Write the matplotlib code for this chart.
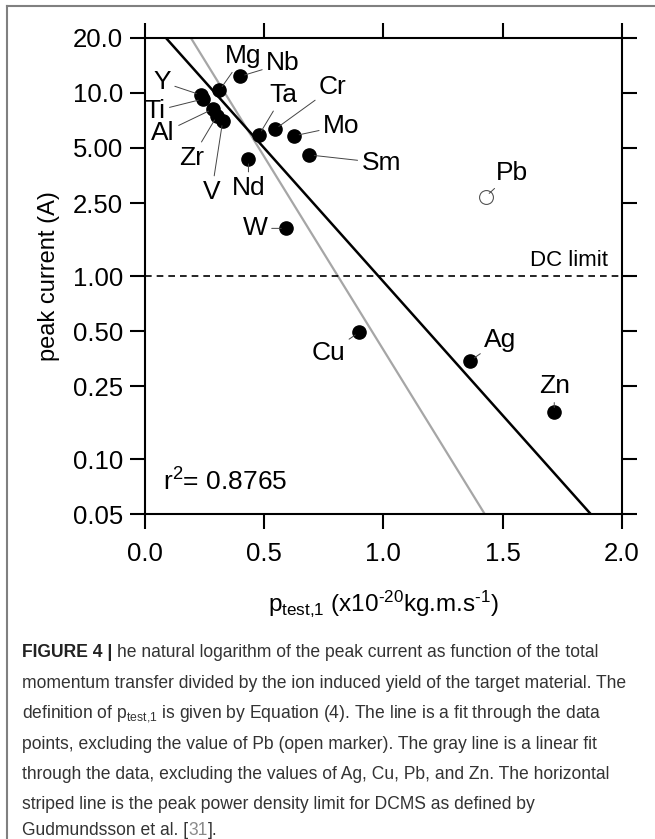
import numpy as np
import matplotlib
matplotlib.use('Agg')
import matplotlib.pyplot as plt
from matplotlib.ticker import FixedLocator, FixedFormatter, NullLocator
from matplotlib.lines import Line2D

plt.rcParams['font.family'] = ['Liberation Sans', 'DejaVu Sans']
plt.rcParams['mathtext.fontset'] = 'custom'
plt.rcParams['mathtext.rm'] = 'Liberation Sans'
plt.rcParams['mathtext.it'] = 'Liberation Sans:italic'
plt.rcParams['mathtext.bf'] = 'Liberation Sans:bold'

# ---------------- data ----------------
elements = ['Y', 'Ti', 'Al', 'Zr', 'V', 'Mg', 'Nb', 'Ta', 'Cr', 'Mo', 'Sm',
            'Nd', 'W', 'Cu', 'Ag', 'Zn']
p_test = [0.235, 0.243, 0.285, 0.302, 0.326, 0.312, 0.399, 0.478, 0.545,
          0.627, 0.690, 0.434, 0.592, 0.899, 1.365, 1.717]
peak_current = [9.73, 9.25, 8.16, 7.48, 7.02, 10.3, 12.3, 5.88, 6.32,
                5.83, 4.58, 4.35, 1.82, 0.493, 0.345, 0.180]
# label offsets (pixels, text centre relative to point)
label_dx = [-39, -48, -50, -25, -11, 24, 43, 24, 58, 47, 72, 0, -31, -31, 30, 0]
label_dy = [13, -12, -24, -42, -71, 34, 13, 40, 42, 10, -8, -29, 0, -21, 21, 26]

pb_name = 'Pb'
pb_x = [1.429]
pb_y = [2.71]
pb_dx, pb_dy = 26, 24

fit_black_x = [0.087, 1.871]
fit_black_y = [20.0, 0.05]
fit_gray_x = [0.192, 1.426]
fit_gray_y = [20.0, 0.05]

dc_limit = 1.0
r2_value = 0.8765

yticks = [0.05, 0.10, 0.25, 0.50, 1.00, 2.50, 5.00, 10.0, 20.0]
ytick_labels = ['0.05', '0.10', '0.25', '0.50', '1.00', '2.50', '5.00', '10.0', '20.0']
xticks = [0.0, 0.5, 1.0, 1.5, 2.0]
xtick_labels = ['0.0', '0.5', '1.0', '1.5', '2.0']

caption_lines = [
    "he natural logarithm of the peak current as function of the total",
    "momentum transfer divided by the ion induced yield of the target material. The",
    r"definition of p$_\mathregular{test{,}1}$ is given by Equation (4). The line is a fit through the data",
    "points, excluding the value of Pb (open marker). The gray line is a linear fit",
    "through the data, excluding the values of Ag, Cu, Pb, and Zn. The horizontal",
    "striped line is the peak power density limit for DCMS as defined by",
    "Gudmundsson et al. [",
]

# ---------------- figure ----------------
W, H = 655, 839
fig = plt.figure(figsize=(W / 100, H / 100), dpi=100)
ax = fig.add_axes([145 / W, 1 - 514.3 / H, 476.7 / W, 476.6 / H])

ax.set_yscale('log')
ax.set_xlim(0, 2.0)
ax.set_ylim(0.05, 20.0)

ax.plot(fit_gray_x, fit_gray_y, color='#a6a6a6', lw=1.6, zorder=2)
ax.plot(fit_black_x, fit_black_y, color='black', lw=1.8, zorder=3)
ax.axhline(dc_limit, color='black', lw=1.2, ls=(0, (4, 3)), zorder=2)

ax.plot(p_test, peak_current, 'o', color='black', ms=9.5, zorder=4, ls='none')
ax.plot(pb_x, pb_y, 'o', mfc='white', mec='#555555', mew=0.8, ms=10, zorder=4, ls='none')

for name, x, y, dx, dy in zip(elements, p_test, peak_current, label_dx, label_dy):
    ax.annotate(name, (x, y), xytext=(dx, dy), textcoords='offset pixels',
                ha='center', va='center', fontsize=19,
                arrowprops=dict(arrowstyle='-', color='#444444', lw=0.7,
                                shrinkA=1, shrinkB=3.5), zorder=5)
ax.annotate(pb_name, (pb_x[0], pb_y[0]), xytext=(pb_dx, pb_dy), textcoords='offset pixels',
            ha='center', va='center', fontsize=19,
            arrowprops=dict(arrowstyle='-', color='#444444', lw=0.7,
                            shrinkA=1, shrinkB=3.5), zorder=5)

ax.text(0.971, 0.521, 'DC limit', transform=ax.transAxes, ha='right',
        va='baseline', fontsize=16)
ax.text(0.038, 0.05, r'r$^\mathregular{2}$= %.4f' % r2_value, transform=ax.transAxes,
        ha='left', va='baseline', fontsize=19)

ax.yaxis.set_major_locator(FixedLocator(yticks))
ax.yaxis.set_major_formatter(FixedFormatter(ytick_labels))
ax.yaxis.set_minor_locator(NullLocator())
ax.xaxis.set_major_locator(FixedLocator(xticks))
ax.xaxis.set_major_formatter(FixedFormatter(xtick_labels))
ax.xaxis.set_minor_locator(NullLocator())

ax.tick_params(which='both', direction='out', length=10.5, width=1.5,
               top=True, right=True, labelsize=18.5)
ax.tick_params(axis='x', pad=9.5)
ax.tick_params(axis='y', pad=5.5)
for s in ax.spines.values():
    s.set_linewidth(1.5)

ax.set_ylabel('peak current (A)', fontsize=17, labelpad=9)
ax.set_xlabel('p$_\\mathregular{test{,}1}$ (x10$^\\mathregular{\u201020}$kg.m.s$^\\mathregular{\u20101}$)',
              fontsize=17.5, labelpad=16)

# ---------------- border ----------------
fig.add_artist(Line2D([7 / W, 7 / W], [0, 1 - 6 / H], transform=fig.transFigure,
                      color='#808080', lw=1.5))
fig.add_artist(Line2D([7 / W, 1], [1 - 6 / H, 1 - 6 / H], transform=fig.transFigure,
                      color='#808080', lw=1.5))

# ---------------- caption ----------------
renderer = fig.canvas.get_renderer()
probe = fig.text(0, 0, caption_lines[1], fontsize=12)
wpx = probe.get_window_extent(renderer).width
probe.remove()
cap_fs = 12 * 608 / wpx

cap_x = 22 / W
baselines = [657, 688, 718, 749, 779, 809, 835]
cap_color = '#333333'

for i, line in enumerate(caption_lines):
    yb = 1 - baselines[i] / H
    if i == 0:
        t = fig.text(cap_x, yb, 'FIGURE 4 |', fontsize=cap_fs, fontweight='bold',
                     color='#222222', va='baseline')
        ext = t.get_window_extent(renderer)
        fig.text((ext.x1 + 0.28 * cap_fs * 100 / 72) / W, yb, line, fontsize=cap_fs,
                 color=cap_color, va='baseline')
    elif i == len(caption_lines) - 1:
        t = fig.text(cap_x, yb, line, fontsize=cap_fs, color=cap_color, va='baseline')
        ext = t.get_window_extent(renderer)
        t2 = fig.text(ext.x1 / W, yb, '31', fontsize=cap_fs, color='#8a8a8a', va='baseline')
        ext2 = t2.get_window_extent(renderer)
        fig.text(ext2.x1 / W, yb, '].', fontsize=cap_fs, color=cap_color, va='baseline')
    else:
        fig.text(cap_x, yb, line, fontsize=cap_fs, color=cap_color, va='baseline')

fig.savefig('out.png', dpi=100)
